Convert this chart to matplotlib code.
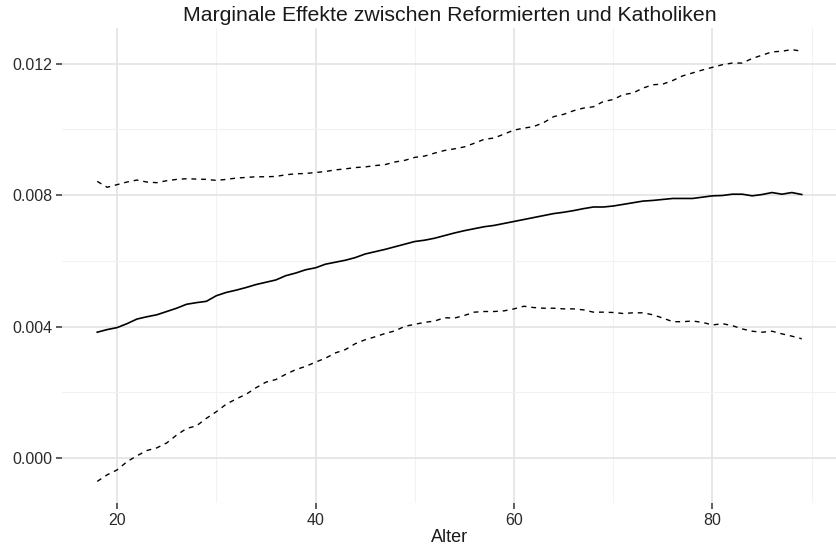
import numpy as np
import matplotlib.pyplot as plt
from matplotlib.ticker import MultipleLocator

plt.rcParams['font.family'] = ['Liberation Sans', 'DejaVu Sans']

# Alter 18..89
alter = np.arange(18, 90)

# Marginaler Effekt (Punktschaetzer)
effekt = [0.00383, 0.00391, 0.00397, 0.00409, 0.00423, 0.00430, 0.00436, 0.00446,
          0.00456, 0.00468, 0.00473, 0.00477, 0.00494, 0.00504, 0.00511, 0.00519,
          0.00528, 0.00535, 0.00542, 0.00555, 0.00563, 0.00573, 0.00579, 0.00590,
          0.00596, 0.00602, 0.00610, 0.00621, 0.00628, 0.00635, 0.00643, 0.00651,
          0.00659, 0.00663, 0.00669, 0.00677, 0.00685, 0.00692, 0.00698, 0.00704,
          0.00708, 0.00714, 0.00720, 0.00726, 0.00732, 0.00738, 0.00744, 0.00748,
          0.00753, 0.00759, 0.00764, 0.00764, 0.00767, 0.00772, 0.00777, 0.00782,
          0.00784, 0.00787, 0.00790, 0.00790, 0.00790, 0.00794, 0.00798, 0.00799,
          0.00803, 0.00803, 0.00798, 0.00802, 0.00808, 0.00803, 0.00808, 0.00802]

# obere Grenze des Konfidenzintervalls
obere = [0.00842, 0.00824, 0.00832, 0.00840, 0.00846, 0.00840, 0.00838, 0.00844,
         0.00848, 0.00850, 0.00849, 0.00848, 0.00845, 0.00848, 0.00852, 0.00854,
         0.00856, 0.00856, 0.00857, 0.00862, 0.00865, 0.00866, 0.00869, 0.00872,
         0.00877, 0.00880, 0.00884, 0.00886, 0.00890, 0.00893, 0.00901, 0.00906,
         0.00915, 0.00919, 0.00928, 0.00936, 0.00941, 0.00947, 0.00958, 0.00970,
         0.00974, 0.00986, 0.00998, 0.01004, 0.01009, 0.01021, 0.01039, 0.01046,
         0.01057, 0.01065, 0.01069, 0.01085, 0.01091, 0.01106, 0.01111, 0.01126,
         0.01136, 0.01138, 0.01149, 0.01163, 0.01172, 0.01181, 0.01189, 0.01197,
         0.01202, 0.01202, 0.01216, 0.01226, 0.01236, 0.01238, 0.01243, 0.01238]

# untere Grenze des Konfidenzintervalls
untere = [-0.00071, -0.00051, -0.00036, -0.00011, 0.00007, 0.00023, 0.00031, 0.00046,
          0.00070, 0.00090, 0.00098, 0.00121, 0.00141, 0.00164, 0.00180, 0.00194,
          0.00214, 0.00231, 0.00239, 0.00255, 0.00269, 0.00279, 0.00292, 0.00304,
          0.00320, 0.00330, 0.00348, 0.00360, 0.00369, 0.00379, 0.00387, 0.00401,
          0.00407, 0.00413, 0.00417, 0.00427, 0.00426, 0.00434, 0.00444, 0.00446,
          0.00446, 0.00448, 0.00454, 0.00462, 0.00458, 0.00456, 0.00456, 0.00454,
          0.00454, 0.00451, 0.00444, 0.00444, 0.00443, 0.00440, 0.00442, 0.00442,
          0.00436, 0.00426, 0.00415, 0.00415, 0.00417, 0.00413, 0.00405, 0.00409,
          0.00403, 0.00393, 0.00386, 0.00383, 0.00386, 0.00378, 0.00371, 0.00363]

fig = plt.figure(figsize=(8.37, 5.54), dpi=100)
ax = fig.add_axes([62 / 837, 1 - 503 / 554, 1 - 62 / 837, (503 - 28) / 554])

ax.plot(alter, effekt, color="black", linewidth=1.2)
ax.plot(alter, obere, color="black", linewidth=1.0, dashes=(3.5, 3.5))
ax.plot(alter, untere, color="black", linewidth=1.0, dashes=(3.5, 3.5))

# ggplot-artige Ausdehnung um 5 %
xspan = alter.max() - alter.min()
ax.set_xlim(alter.min() - 0.05 * xspan, alter.max() + 0.05 * xspan)
ymin, ymax = min(untere), max(obere)
yspan = ymax - ymin
ax.set_ylim(ymin - 0.05 * yspan, ymax + 0.05 * yspan)

ax.xaxis.set_major_locator(MultipleLocator(20))
ax.xaxis.set_minor_locator(MultipleLocator(10))
ax.yaxis.set_major_locator(MultipleLocator(0.004))
ax.yaxis.set_minor_locator(MultipleLocator(0.002))
ax.yaxis.set_major_formatter(plt.FuncFormatter(lambda v, p: f"{v:.3f}"))

ax.grid(which="major", color="#e3e3e3", linewidth=1.2)
ax.grid(which="minor", color="#f2f2f2", linewidth=0.8)
ax.set_axisbelow(True)
for s in ax.spines.values():
    s.set_visible(False)

ax.tick_params(which="major", length=4, width=1.1, color="#333333",
               labelsize=11.5, labelcolor="#2b2b2b", pad=3)
ax.tick_params(which="minor", length=0)

ax.set_xlabel("Alter", fontsize=13, color="#1a1a1a", labelpad=1)
ax.set_title("Marginale Effekte zwischen Reformierten und Katholiken",
             fontsize=15.3, color="#1a1a1a", pad=5)

plt.savefig("out.png", dpi=100)
